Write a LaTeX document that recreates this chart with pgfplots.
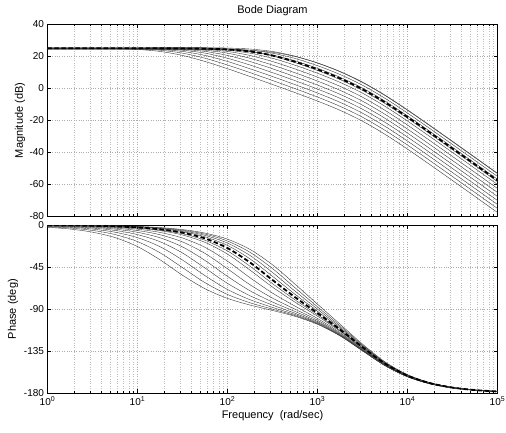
\documentclass[border=0pt]{standalone}
\usepackage{fontspec}
\setmainfont{Liberation Sans}
\usepackage{pgfplots}
\usepackage{pgfplotstable}
\pgfplotsset{compat=1.18}

\pgfplotstableread{
w a11 a12 a13 a14 a15 a16 a17 a18 a185 d19 a195 a20 a205 a21
1 24.99 25.00 25.00 25.00 25.00 25.00 25.00 25.00 25.50 25.00 24.50 25.00 25.50 24.50
1.7783 24.98 24.99 24.99 25.00 25.00 25.00 25.00 25.00 25.50 25.00 24.50 25.00 25.50 24.50
3.1623 24.92 24.96 24.98 24.99 24.99 25.00 25.00 25.00 25.50 25.00 24.50 25.00 25.50 24.50
5.6234 24.76 24.87 24.92 24.96 24.98 24.99 24.99 25.00 25.50 25.00 24.50 25.00 25.50 24.50
10 24.29 24.59 24.76 24.87 24.92 24.96 24.98 24.99 25.49 24.99 24.49 25.00 25.50 24.50
17.783 23.06 23.81 24.29 24.59 24.76 24.86 24.92 24.96 25.47 24.98 24.48 24.99 25.49 24.49
31.623 20.56 21.99 23.06 23.81 24.29 24.59 24.76 24.86 25.40 24.92 24.44 24.96 25.47 24.48
56.234 16.79 18.81 20.56 21.99 23.06 23.81 24.29 24.59 25.19 24.76 24.32 24.86 25.40 24.42
100 12.26 14.58 16.79 18.80 20.56 21.99 23.06 23.80 24.57 24.29 23.95 24.58 25.18 24.26
177.83 7.41 9.85 12.25 14.57 16.78 18.79 20.55 21.98 23.06 23.05 22.96 23.79 24.56 23.78
316.23 2.43 4.91 7.38 9.82 12.22 14.54 16.75 18.76 20.18 20.52 20.78 21.95 23.03 22.52
562.34 -2.64 -0.15 2.34 4.82 7.29 9.73 12.13 14.45 16.07 16.65 17.19 18.67 20.09 19.93
1000 -7.92 -5.42 -2.92 -0.43 2.06 4.54 7.01 9.45 11.16 11.85 12.52 14.17 15.79 15.88
1778.3 -13.69 -11.19 -8.70 -6.20 -3.70 -1.21 1.28 3.76 5.50 6.23 6.96 8.67 10.38 10.57
3162.3 -20.51 -18.01 -15.51 -13.01 -10.51 -8.01 -5.52 -3.02 -1.28 -0.53 0.21 1.95 3.68 3.91
5623.4 -28.69 -26.19 -23.69 -21.19 -18.69 -16.19 -13.70 -11.20 -9.45 -8.70 -7.95 -6.21 -4.46 -4.22
10000 -37.91 -35.41 -32.91 -30.41 -27.91 -25.41 -22.92 -20.42 -18.67 -17.92 -17.17 -15.42 -13.67 -13.42
17783 -47.64 -45.14 -42.64 -40.14 -37.64 -35.14 -32.64 -30.14 -28.39 -27.64 -26.89 -25.14 -23.39 -23.14
31623 -57.54 -55.04 -52.54 -50.04 -47.54 -45.04 -42.54 -40.04 -38.29 -37.54 -36.79 -35.04 -33.29 -33.04
56234 -67.51 -65.01 -62.51 -60.01 -57.51 -55.01 -52.51 -50.01 -48.26 -47.51 -46.76 -45.01 -43.26 -43.01
100000 -77.50 -75.00 -72.50 -70.00 -67.50 -65.00 -62.50 -60.00 -58.25 -57.50 -56.75 -55.00 -53.25 -53.00
}\magtab

\pgfplotstableread{
w a11 a12 a13 a14 a15 a16 a17 a18 a185 d19 a195 a20 a205 a21
1 -2.43 -1.83 -1.38 -1.04 -0.78 -0.59 -0.45 -0.34 -0.30 -0.26 -0.23 -0.20 -0.18 -0.16
1.7783 -4.32 -3.25 -2.44 -1.84 -1.39 -1.05 -0.79 -0.60 -0.53 -0.46 -0.40 -0.35 -0.31 -0.27
3.1623 -7.66 -5.77 -4.35 -3.28 -2.47 -1.87 -1.42 -1.08 -0.94 -0.82 -0.72 -0.63 -0.56 -0.49
5.6234 -13.44 -10.18 -7.70 -5.81 -4.39 -3.32 -2.51 -1.91 -1.67 -1.46 -1.28 -1.12 -0.98 -0.86
10 -23.05 -17.73 -13.52 -10.26 -7.78 -5.89 -4.47 -3.40 -2.97 -2.59 -2.27 -1.99 -1.75 -1.54
17.783 -37.18 -29.66 -23.19 -17.87 -13.66 -10.40 -7.92 -6.03 -5.27 -4.61 -4.04 -3.54 -3.11 -2.73
31.623 -53.71 -45.57 -37.43 -29.91 -23.44 -18.12 -13.91 -10.65 -9.32 -8.17 -7.16 -6.28 -5.52 -4.86
56.234 -68.15 -61.68 -54.16 -46.02 -37.88 -30.36 -23.89 -18.57 -16.33 -14.36 -12.62 -11.10 -9.77 -8.62
100 -78.47 -74.26 -68.94 -62.47 -54.95 -46.81 -38.67 -31.15 -27.77 -24.68 -21.87 -19.36 -17.12 -15.15
177.83 -85.62 -83.14 -79.88 -75.67 -70.35 -63.88 -56.36 -48.22 -44.09 -40.08 -36.22 -32.56 -29.18 -26.09
316.23 -91.42 -90.00 -88.11 -85.63 -82.37 -78.16 -72.84 -66.37 -62.71 -58.85 -54.84 -50.71 -46.58 -42.57
562.34 -97.67 -96.86 -95.79 -94.37 -92.48 -90.00 -86.74 -82.53 -80.02 -77.21 -74.12 -70.74 -67.08 -63.22
1000 -106.19 -105.74 -105.14 -104.33 -103.26 -101.84 -99.95 -97.47 -95.95 -94.21 -92.24 -90.00 -87.49 -84.68
1778.3 -118.58 -118.32 -117.98 -117.53 -116.93 -116.12 -115.05 -113.63 -112.75 -111.74 -110.59 -109.26 -107.74 -106.00
3162.3 -134.57 -134.43 -134.24 -133.98 -133.64 -133.19 -132.59 -131.78 -131.28 -130.71 -130.05 -129.29 -128.41 -127.40
5623.4 -150.42 -150.34 -150.23 -150.09 -149.90 -149.64 -149.30 -148.85 -148.57 -148.25 -147.87 -147.44 -146.94 -146.37
10000 -162.31 -162.27 -162.21 -162.13 -162.02 -161.88 -161.69 -161.43 -161.27 -161.09 -160.88 -160.64 -160.36 -160.04
17783 -169.84 -169.82 -169.78 -169.74 -169.68 -169.60 -169.49 -169.35 -169.26 -169.16 -169.04 -168.90 -168.74 -168.56
31623 -174.25 -174.23 -174.21 -174.19 -174.15 -174.11 -174.05 -173.97 -173.92 -173.86 -173.79 -173.72 -173.63 -173.53
56234 -176.76 -176.75 -176.74 -176.72 -176.70 -176.68 -176.64 -176.60 -176.57 -176.54 -176.50 -176.46 -176.41 -176.35
100000 -178.18 -178.17 -178.17 -178.16 -178.15 -178.13 -178.11 -178.09 -178.07 -178.05 -178.03 -178.01 -177.98 -177.95
}\phtab

\tikzset{
  thinl/.style={color=gray!45!black, line width=0.4pt, smooth},
  dashl/.style={color=black, line width=1.8pt, dash pattern=on 4.5pt off 2.5pt, smooth},
}

\begin{document}
\begin{tikzpicture}
\begin{axis}[
  scale only axis, width=450pt, height=192.2pt,
  at={(0pt,0pt)}, anchor=south west,
  xmode=log, xmin=1, xmax=100000,
  xtick={1,10,100,1000,10000,100000},
  xticklabels={},
  ymin=-80, ymax=40,
  ytick={-80,-60,-40,-20,0,20,40},
  yticklabels={-80,-60,-40,-20,0,20,40},
  grid=both,
  major grid style={dotted, gray!65, line width=0.4pt},
  minor grid style={dotted, gray!50, line width=0.4pt},
  tick align=inside, major tick length=4pt, minor tick length=2.2pt,
  tick style={black, line width=0.4pt},
  axis line style={line width=0.5pt},
  ticklabel style={font=\fontsize{10}{12}\selectfont},
  label style={font=\fontsize{11}{13}\selectfont},
  title={Bode Diagram},
  title style={at={(axis description cs:0.5,1)}, anchor=base, yshift=5pt, font=\fontsize{11}{13}\selectfont},
  ylabel={Magnitude (dB)},
  ylabel style={at={(axis description cs:-0.061,0.5)}, anchor=center},
]
\addplot[thinl, no markers] table[x=w,y=a11]{\magtab};
\addplot[thinl, no markers] table[x=w,y=a12]{\magtab};
\addplot[thinl, no markers] table[x=w,y=a13]{\magtab};
\addplot[thinl, no markers] table[x=w,y=a14]{\magtab};
\addplot[thinl, no markers] table[x=w,y=a15]{\magtab};
\addplot[thinl, no markers] table[x=w,y=a16]{\magtab};
\addplot[thinl, no markers] table[x=w,y=a17]{\magtab};
\addplot[thinl, no markers] table[x=w,y=a18]{\magtab};
\addplot[thinl, no markers] table[x=w,y=a185]{\magtab};
\addplot[thinl, no markers] table[x=w,y=a195]{\magtab};
\addplot[thinl, no markers] table[x=w,y=a20]{\magtab};
\addplot[thinl, no markers] table[x=w,y=a205]{\magtab};
\addplot[thinl, no markers] table[x=w,y=a21]{\magtab};
\addplot[dashl, no markers] table[x=w,y=d19]{\magtab};
\end{axis}
\begin{axis}[
  scale only axis, width=450pt, height=168.3pt,
  at={(0pt,-8.5pt)}, anchor=north west,
  xmode=log, xmin=1, xmax=100000,
  xtick={1,10,100,1000,10000,100000},
  xticklabels={10\textsuperscript{0},10\textsuperscript{1},10\textsuperscript{2},10\textsuperscript{3},10\textsuperscript{4},10\textsuperscript{5}},
  ymin=-180, ymax=0,
  ytick={-180,-135,-90,-45,0},
  yticklabels={-180,-135,-90,-45,0},
  grid=both,
  major grid style={dotted, gray!65, line width=0.4pt},
  minor grid style={dotted, gray!50, line width=0.4pt},
  tick align=inside, major tick length=4pt, minor tick length=2.2pt,
  tick style={black, line width=0.4pt},
  axis line style={line width=0.5pt},
  ticklabel style={font=\fontsize{10}{12}\selectfont},
  label style={font=\fontsize{11}{13}\selectfont},
  xlabel={Frequency\ \ (rad/sec)},
  xlabel style={at={(axis description cs:0.5,0)}, anchor=center, yshift=-22.7pt},
  ylabel={Phase (deg)},
  ylabel style={at={(axis description cs:-0.0767,0.5)}, anchor=center},
]
\addplot[thinl, no markers] table[x=w,y=a11]{\phtab};
\addplot[thinl, no markers] table[x=w,y=a12]{\phtab};
\addplot[thinl, no markers] table[x=w,y=a13]{\phtab};
\addplot[thinl, no markers] table[x=w,y=a14]{\phtab};
\addplot[thinl, no markers] table[x=w,y=a15]{\phtab};
\addplot[thinl, no markers] table[x=w,y=a16]{\phtab};
\addplot[thinl, no markers] table[x=w,y=a17]{\phtab};
\addplot[thinl, no markers] table[x=w,y=a18]{\phtab};
\addplot[thinl, no markers] table[x=w,y=a185]{\phtab};
\addplot[thinl, no markers] table[x=w,y=a195]{\phtab};
\addplot[thinl, no markers] table[x=w,y=a20]{\phtab};
\addplot[thinl, no markers] table[x=w,y=a205]{\phtab};
\addplot[thinl, no markers] table[x=w,y=a21]{\phtab};
\addplot[dashl, no markers] table[x=w,y=d19]{\phtab};
\end{axis}
\pgfresetboundingbox
\path[use as bounding box] (-47.5pt,-215.5pt) rectangle (458.5pt,216.5pt);
\end{tikzpicture}
\end{document}
